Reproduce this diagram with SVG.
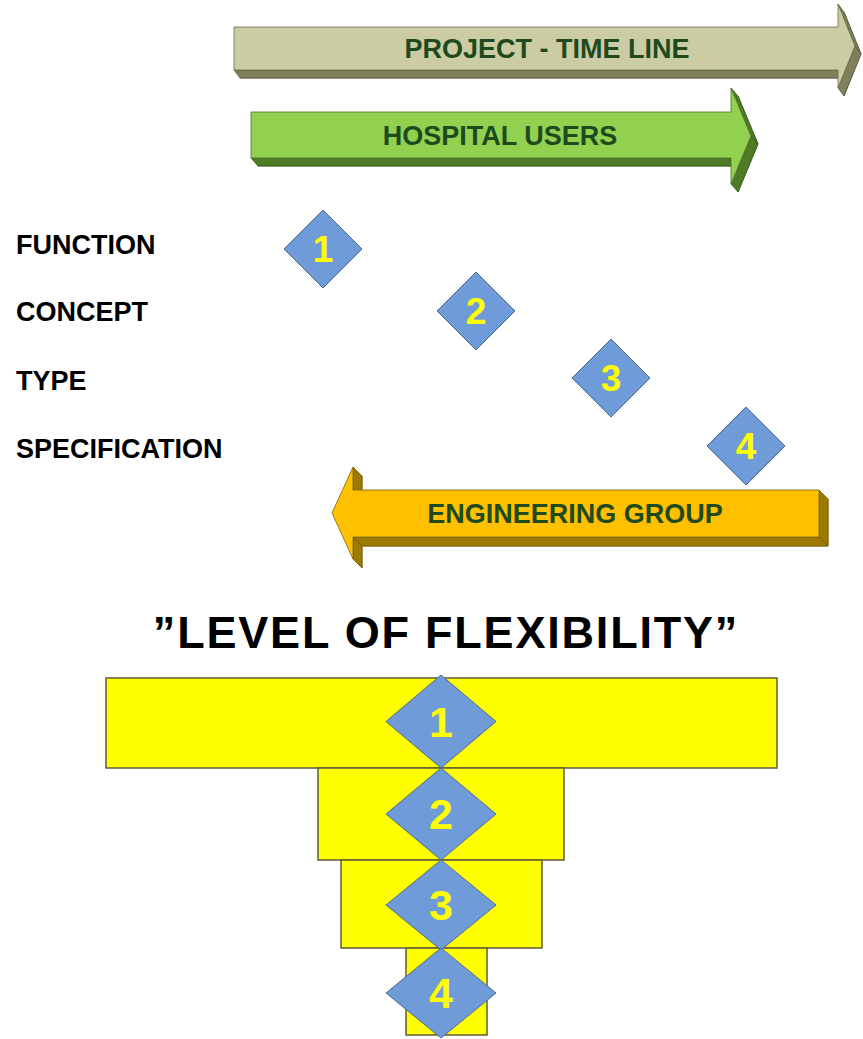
<svg xmlns="http://www.w3.org/2000/svg" width="863" height="1039" viewBox="0 0 863 1039">
<style>
.lbl{font-family:"Liberation Sans",Arial,sans-serif;font-weight:bold;font-size:27px;fill:#000}
.atx{font-family:"Liberation Sans",Arial,sans-serif;font-weight:bold;font-size:27px;fill:#1e4a1e;text-anchor:middle}
.title{font-family:"Liberation Sans",Arial,sans-serif;font-weight:bold;font-size:45px;fill:#000;text-anchor:middle;letter-spacing:1.8px}
.dg{font-family:"Liberation Sans",Arial,sans-serif;font-weight:bold;fill:#ffff00;text-anchor:middle}
.dia{fill:#6f9bd8;stroke:#4d6a94;stroke-width:1}
.blk{fill:#ffff00;stroke:#5e5e36;stroke-width:1.5}
.pDark{fill:#7f7f5e;stroke:#5c5c40;stroke-width:0.8}
.pFace{fill:#cbcba4;stroke:#6a6a48;stroke-width:0.8}
.hDark{fill:#4f7a28;stroke:#3d5f1e;stroke-width:0.8}
.hFace{fill:#92d050;stroke:#4a7426;stroke-width:0.8}
.eDark{fill:#9c7a00;stroke:#6e5800;stroke-width:0.8}
.eFace{fill:#ffc000;stroke:#7a6400;stroke-width:0.8}
</style>
<rect width="863" height="1039" fill="#fff"/>

<g id="project-timeline">
<polygon class="pDark" points="240,35 844,35 844,12 861,54 844,96 844,78 240,78"/>
<polygon class="pDark" points="234,70 838,70 844,78 240,78"/>
<polygon class="pDark" points="838,4 855,46 861,54 844,12"/>
<polygon class="pDark" points="855,46 838,88 844,96 861,54"/>
<polygon class="pFace" points="234,27 838,27 838,4 855,46 838,88 838,70 234,70"/>
<text class="atx" x="547" y="58">PROJECT - TIME LINE</text>
</g>

<g id="hospital-users">
<polygon class="hDark" points="258,120 738,120 738,96 758,144 738,192 738,166 258,166"/>
<polygon class="hDark" points="251,158 731,158 738,166 258,166"/>
<polygon class="hDark" points="731,88 751,136 758,144 738,96"/>
<polygon class="hDark" points="751,136 731,184 738,192 758,144"/>
<polygon class="hFace" points="251,112 731,112 731,88 751,136 731,184 731,158 251,158"/>
<text class="atx" x="500" y="145">HOSPITAL USERS</text>
</g>

<g id="labels">
<text class="lbl" x="16" y="254">FUNCTION</text>
<text class="lbl" x="16" y="321">CONCEPT</text>
<text class="lbl" x="16" y="390">TYPE</text>
<text class="lbl" x="16" y="458">SPECIFICATION</text>
</g>

<g id="step-1"><polygon class="dia" points="323,210 362,249 323,288 284,249"/><text class="dg" x="323" y="262" font-size="37">1</text></g>
<g id="step-2"><polygon class="dia" points="476,272 515,311 476,350 437,311"/><text class="dg" x="476" y="324" font-size="37">2</text></g>
<g id="step-3"><polygon class="dia" points="611,339 650,378 611,417 572,378"/><text class="dg" x="611" y="391" font-size="37">3</text></g>
<g id="step-4"><polygon class="dia" points="746,407 785,446 746,485 707,446"/><text class="dg" x="746" y="459" font-size="37">4</text></g>

<g id="engineering-group">
<polygon class="eDark" points="828,499 362,499 362,476 341,522 362,568 362,546 828,546"/>
<polygon class="eDark" points="819,490 819,537 828,546 828,499"/>
<polygon class="eDark" points="819,537 353,537 362,546 828,546"/>
<polygon class="eDark" points="353,467 353,490 362,499 362,476"/>
<polygon class="eDark" points="353,537 353,559 362,568 362,546"/>
<polygon class="eFace" points="819,490 353,490 353,467 332,513 353,559 353,537 819,537"/>
<text class="atx" x="575" y="523">ENGINEERING GROUP</text>
</g>

<g id="title"><text class="title" x="446" y="648">”LEVEL OF FLEXIBILITY”</text></g>

<g id="flexibility-levels">
<rect class="blk" x="106" y="678" width="671" height="90"/>
<rect class="blk" x="318" y="768" width="246" height="92"/>
<rect class="blk" x="341" y="860" width="201" height="88"/>
<rect class="blk" x="406" y="948" width="81" height="87"/>
</g>

<g id="level-1"><polygon class="dia" points="441,675 496,721.5 441,768 386,721.5"/><text class="dg" x="441" y="737" font-size="43">1</text></g>
<g id="level-2"><polygon class="dia" points="441,768 496,814 441,860 386,814"/><text class="dg" x="441" y="829" font-size="43">2</text></g>
<g id="level-3"><polygon class="dia" points="441,860 496,905 441,950 386,905"/><text class="dg" x="441" y="920" font-size="43">3</text></g>
<g id="level-4"><polygon class="dia" points="441,948 496,993 441,1038 386,993"/><text class="dg" x="441" y="1008" font-size="43">4</text></g>
</svg>
